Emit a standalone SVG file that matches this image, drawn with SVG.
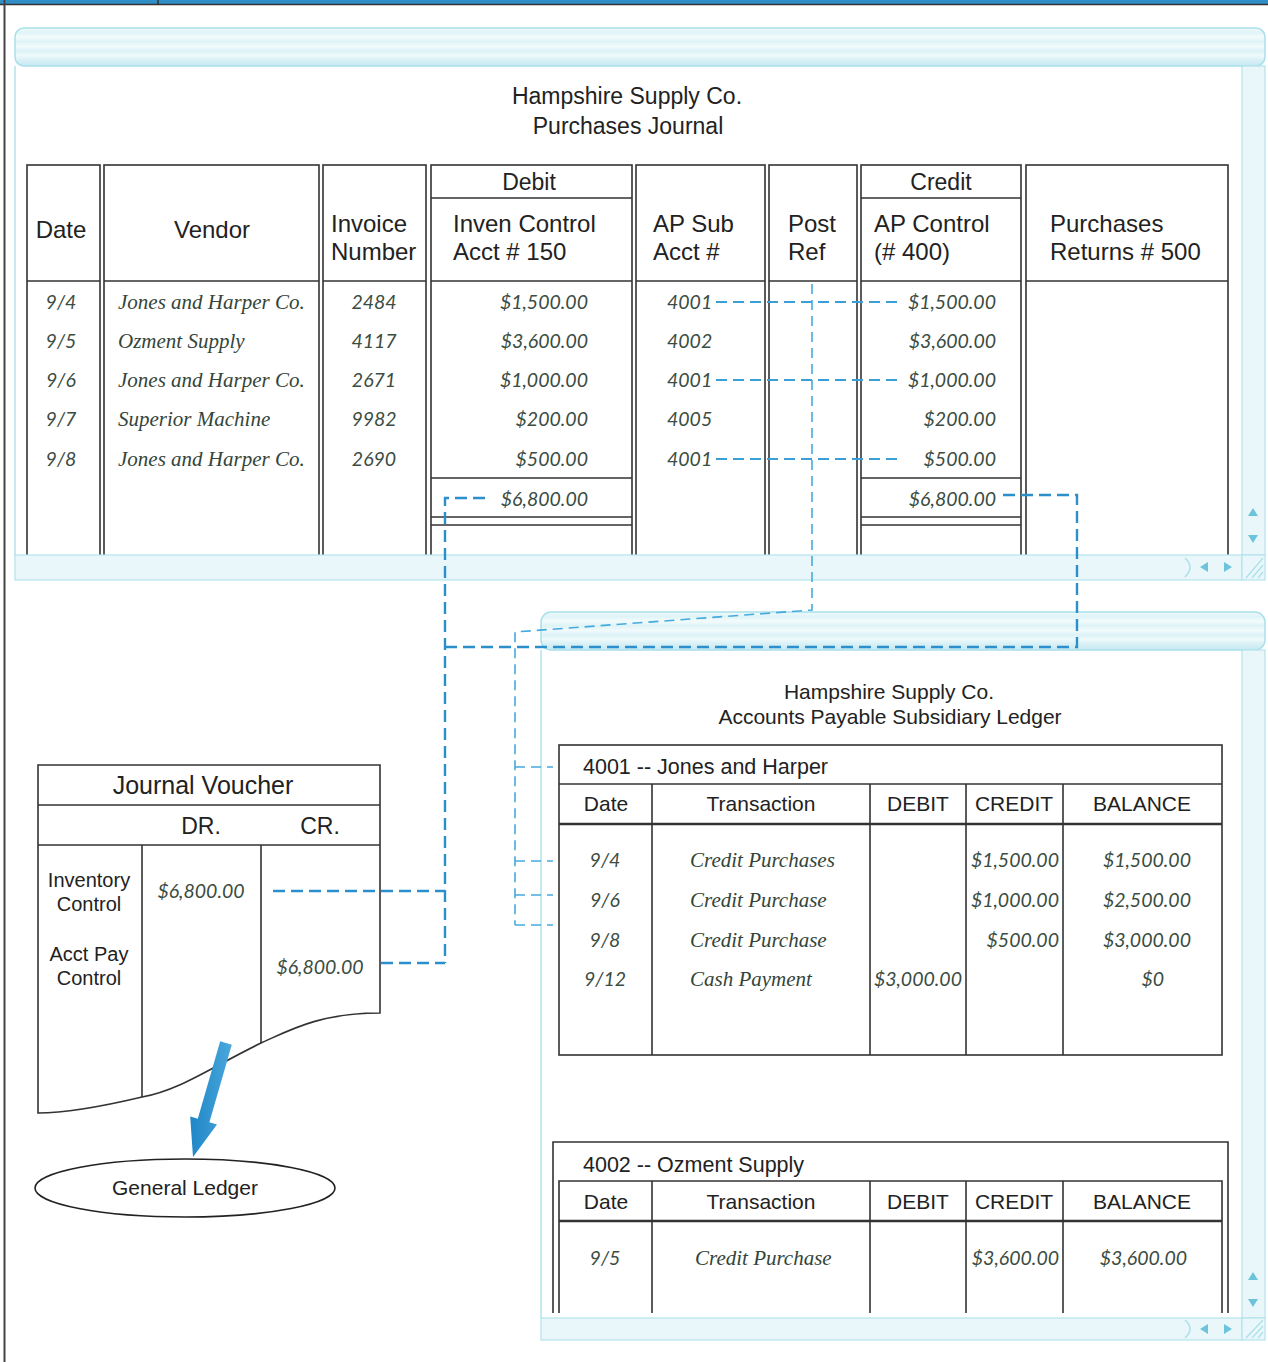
<svg xmlns="http://www.w3.org/2000/svg" width="1268" height="1362" viewBox="0 0 1268 1362">
  <defs>
    <style>
      .hdr { font-family: "Liberation Sans", Arial, sans-serif; fill: #222; }
      .hw { font-family: Lato, "Liberation Sans", sans-serif; font-style: italic; font-weight: 400; fill: #3b4c42; font-size: 19.5px; }
      .sc { font-family: "Liberation Serif", "Times New Roman", serif; font-style: italic; fill: #33453a; font-size: 21px; }
      .box { fill: #fff; stroke: #333; stroke-width: 1.6; }
      .ln { fill: none; stroke: #333; stroke-width: 1.6; }
      .thk { fill: none; stroke: #333; stroke-width: 2.4; }
      .dash { fill: none; stroke: #2a8fcb; stroke-width: 2.4; stroke-dasharray: 12 6; }
      .dashL { fill: none; stroke: #45aadd; stroke-width: 1.6; stroke-dasharray: 10 6; }
      .row { fill: none; stroke: #3a9fd6; stroke-width: 2; stroke-dasharray: 11 6; }
      .bar { fill: url(#barGrad); stroke: #a9e0ea; stroke-width: 1.5; }
      .sbar { fill: #eaf7fa; stroke: #b2e3ec; stroke-width: 1.2; }
      .edge { stroke: #b2e3ec; stroke-width: 1.5; fill: none; }
      .arr { fill: #6cc4da; }
      .c { text-anchor: middle; }
      .r { text-anchor: end; }
    </style>
    <linearGradient id="barGrad" x1="0" y1="0" x2="0" y2="1">
      <stop offset="0" stop-color="#f1fafc"/>
      <stop offset="0.12" stop-color="#e0f4f7"/>
      <stop offset="0.24" stop-color="#f3fbfc"/>
      <stop offset="0.36" stop-color="#def3f6"/>
      <stop offset="0.48" stop-color="#f2fafc"/>
      <stop offset="0.6" stop-color="#dcf2f6"/>
      <stop offset="0.72" stop-color="#eef9fb"/>
      <stop offset="0.86" stop-color="#d5eff4"/>
      <stop offset="1" stop-color="#c7eaf1"/>
    </linearGradient>
    <linearGradient id="arrowGrad" x1="0" y1="0" x2="1" y2="0">
      <stop offset="0" stop-color="#1f86c6"/>
      <stop offset="1" stop-color="#4aa8dc"/>
    </linearGradient>
    <clipPath id="voucherClip">
      <path d="M38,765 H380 V1013 C320,1013 290,1030 261,1043 C210,1068 180,1090 142,1097 C100,1107 60,1113 38,1113 Z"/>
    </clipPath>
  </defs>

  <rect width="1268" height="1362" fill="#fff"/>

  <!-- page frame -->
  <g id="frame">
    <rect x="0" y="0" width="1268" height="4" fill="#2f8fc6"/>
    <line x1="0" y1="4.5" x2="1268" y2="4.5" stroke="#333" stroke-width="1.5"/>
    <line x1="158" y1="0" x2="158" y2="4" stroke="#333" stroke-width="1.5"/>
    <line x1="4.5" y1="0" x2="4.5" y2="1362" stroke="#444" stroke-width="2"/>
  </g>

  <!-- purchases journal window -->
  <g id="journal-window">
    <rect class="bar" x="15" y="28" width="1250" height="38" rx="9"/>
    <line class="edge" x1="15" y1="66" x2="15" y2="556"/>
    <text class="hdr c" x="627" y="104" font-size="23">Hampshire Supply Co.</text>
    <text class="hdr c" x="628" y="134" font-size="23">Purchases Journal</text>

    <!-- column boxes -->
    <rect class="box" x="27" y="165" width="73" height="400"/>
    <rect class="box" x="104" y="165" width="215" height="400"/>
    <rect class="box" x="323" y="165" width="103" height="400"/>
    <rect class="box" x="431" y="165" width="201" height="400"/>
    <rect class="box" x="636" y="165" width="129" height="400"/>
    <rect class="box" x="769" y="165" width="88" height="400"/>
    <rect class="box" x="861" y="165" width="160" height="400"/>
    <rect class="box" x="1026" y="165" width="202" height="400"/>
    <path class="ln" d="M27,281 H100 M104,281 H319 M323,281 H426 M431,281 H632 M636,281 H765 M769,281 H857 M861,281 H1021 M1026,281 H1228"/>
    <path class="ln" d="M431,198 H632 M861,198 H1021"/>
    <path class="ln" d="M431,478 H632 M431,517 H632 M431,525 H632 M861,478 H1021 M861,517 H1021 M861,525 H1021"/>

    <!-- headings -->
    <text class="hdr c" x="61" y="238" font-size="24">Date</text>
    <text class="hdr c" x="212" y="238" font-size="24">Vendor</text>
    <text class="hdr" x="331" y="232" font-size="24">Invoice</text>
    <text class="hdr" x="331" y="260" font-size="24">Number</text>
    <text class="hdr c" x="529" y="190" font-size="23">Debit</text>
    <text class="hdr" x="453" y="232" font-size="24">Inven Control</text>
    <text class="hdr" x="453" y="260" font-size="24">Acct # 150</text>
    <text class="hdr" x="653" y="232" font-size="24">AP Sub</text>
    <text class="hdr" x="653" y="260" font-size="24">Acct #</text>
    <text class="hdr" x="788" y="232" font-size="24">Post</text>
    <text class="hdr" x="788" y="260" font-size="24">Ref</text>
    <text class="hdr c" x="941" y="190" font-size="23">Credit</text>
    <text class="hdr" x="874" y="232" font-size="24">AP Control</text>
    <text class="hdr" x="874" y="260" font-size="24">(# 400)</text>
    <text class="hdr" x="1050" y="232" font-size="24">Purchases</text>
    <text class="hdr" x="1050" y="260" font-size="24">Returns # 500</text>

    <!-- entries -->
    <g class="hw c">
      <text x="61" y="309">9/4</text>
      <text x="61" y="348">9/5</text>
      <text x="61" y="387">9/6</text>
      <text x="61" y="426">9/7</text>
      <text x="61" y="466">9/8</text>
      <text x="374" y="309">2484</text>
      <text x="374" y="348">4117</text>
      <text x="374" y="387">2671</text>
      <text x="374" y="426">9982</text>
      <text x="374" y="466">2690</text>
    </g>
    <g class="sc">
      <text x="118" y="309">Jones and Harper Co.</text>
      <text x="118" y="348">Ozment Supply</text>
      <text x="118" y="387">Jones and Harper Co.</text>
      <text x="118" y="426">Superior Machine</text>
      <text x="118" y="466">Jones and Harper Co.</text>
    </g>
    <g class="hw r">
      <text x="588" y="309">$1,500.00</text>
      <text x="588" y="348">$3,600.00</text>
      <text x="588" y="387">$1,000.00</text>
      <text x="588" y="426">$200.00</text>
      <text x="588" y="466">$500.00</text>
      <text x="588" y="506">$6,800.00</text>
      <text x="996" y="309">$1,500.00</text>
      <text x="996" y="348">$3,600.00</text>
      <text x="996" y="387">$1,000.00</text>
      <text x="996" y="426">$200.00</text>
      <text x="996" y="466">$500.00</text>
      <text x="996" y="506">$6,800.00</text>
    </g>
    <g class="hw">
      <text x="667" y="309">4001</text>
      <text x="667" y="348">4002</text>
      <text x="667" y="387">4001</text>
      <text x="667" y="426">4005</text>
      <text x="667" y="466">4001</text>
    </g>

    <!-- scroll bars -->
    <rect class="sbar" x="1242" y="66" width="23" height="489"/>
    <path class="arr" d="M1253,508 l-5,8 h10 z M1253,543 l-5,-8 h10 z"/>
    <rect class="sbar" x="15" y="555" width="1227" height="25"/>
    <path d="M1185,558 q10,9 0,19" fill="none" stroke="#a9e0ea" stroke-width="1.5"/>
    <path class="arr" d="M1200,567 l8,-5 v10 z M1232,567 l-8,-5 v10 z"/>
    <rect class="sbar" x="1242" y="555" width="23" height="25"/>
    <path d="M1246,578 l17,-20 M1252,578 l11,-13 M1258,578 l5,-6" stroke="#a9e0ea" stroke-width="1.2"/>
  </g>

  <!-- accounts payable ledger window -->
  <g id="ledger-window">
    <rect class="bar" x="541" y="612" width="724" height="38" rx="10"/>
    <line class="edge" x1="541" y1="650" x2="541" y2="1318"/>
    <text class="hdr c" x="889" y="699" font-size="21">Hampshire Supply Co.</text>
    <text class="hdr c" x="890" y="724" font-size="21">Accounts Payable Subsidiary Ledger</text>

    <rect class="sbar" x="1242" y="650" width="23" height="668"/>
    <path class="arr" d="M1253,1272 l-5,8 h10 z M1253,1307 l-5,-8 h10 z"/>
    <rect class="sbar" x="541" y="1318" width="701" height="22"/>
    <path d="M1185,1320 q10,9 0,18" fill="none" stroke="#a9e0ea" stroke-width="1.5"/>
    <path class="arr" d="M1200,1329 l8,-5 v10 z M1232,1329 l-8,-5 v10 z"/>
    <rect class="sbar" x="1242" y="1318" width="23" height="22"/>
    <path d="M1246,1338 l17,-18 M1252,1338 l11,-12 M1258,1338 l5,-6" stroke="#a9e0ea" stroke-width="1.2"/>
  </g>

  <!-- ledger account 4001 -->
  <g id="ledger-4001">
    <rect class="box" x="559" y="745" width="663" height="310"/>
    <line class="ln" x1="559" y1="784" x2="1222" y2="784"/>
    <line class="thk" x1="559" y1="824" x2="1222" y2="824"/>
    <path class="ln" d="M652,784 V1055 M870,784 V1055 M966,784 V1055 M1063,784 V1055"/>
    <text class="hdr" x="583" y="774" font-size="21.5">4001 -- Jones and Harper</text>
    <text class="hdr c" x="606" y="811" font-size="21">Date</text>
    <text class="hdr c" x="761" y="811" font-size="21">Transaction</text>
    <text class="hdr c" x="918" y="811" font-size="21">DEBIT</text>
    <text class="hdr c" x="1014" y="811" font-size="21">CREDIT</text>
    <text class="hdr c" x="1142" y="811" font-size="21">BALANCE</text>
    <g class="hw c">
      <text x="605" y="867">9/4</text>
      <text x="605" y="907">9/6</text>
      <text x="605" y="947">9/8</text>
      <text x="605" y="986">9/12</text>
    </g>
    <g class="sc">
      <text x="690" y="867">Credit Purchases</text>
      <text x="690" y="907">Credit Purchase</text>
      <text x="690" y="947">Credit Purchase</text>
      <text x="690" y="986">Cash Payment</text>
    </g>
    <g class="hw r">
      <text x="962" y="986">$3,000.00</text>
      <text x="1059" y="867">$1,500.00</text>
      <text x="1059" y="907">$1,000.00</text>
      <text x="1059" y="947">$500.00</text>
      <text x="1191" y="867">$1,500.00</text>
      <text x="1191" y="907">$2,500.00</text>
      <text x="1191" y="947">$3,000.00</text>
      <text x="1164" y="986">$0</text>
    </g>
  </g>

  <!-- ledger account 4002 -->
  <g id="ledger-4002">
    <path class="ln" d="M553,1313 V1142 H1228 V1313"/>
    <path class="ln" d="M559,1313 V1181 H1222 V1313"/>
    <line class="thk" x1="559" y1="1221" x2="1222" y2="1221"/>
    <path class="ln" d="M652,1181 V1313 M870,1181 V1313 M966,1181 V1313 M1063,1181 V1313"/>
    <text class="hdr" x="583" y="1172" font-size="21.5">4002 -- Ozment Supply</text>
    <text class="hdr c" x="606" y="1209" font-size="21">Date</text>
    <text class="hdr c" x="761" y="1209" font-size="21">Transaction</text>
    <text class="hdr c" x="918" y="1209" font-size="21">DEBIT</text>
    <text class="hdr c" x="1014" y="1209" font-size="21">CREDIT</text>
    <text class="hdr c" x="1142" y="1209" font-size="21">BALANCE</text>
    <text class="hw c" x="605" y="1265">9/5</text>
    <text class="sc" x="695" y="1265">Credit Purchase</text>
    <text class="hw r" x="1059" y="1265">$3,600.00</text>
    <text class="hw r" x="1187" y="1265">$3,600.00</text>
  </g>

  <!-- journal voucher -->
  <g id="journal-voucher">
    <path d="M38,765 H380 V1013 C320,1013 290,1030 261,1043 C210,1068 180,1090 142,1097 C100,1107 60,1113 38,1113 Z" fill="#fff" stroke="#333" stroke-width="1.6"/>
    <path class="ln" d="M38,805 H380 M38,845 H380"/>
    <path class="ln" clip-path="url(#voucherClip)" d="M142,845 V1120 M261,845 V1120"/>
    <text class="hdr c" x="203" y="794" font-size="25">Journal Voucher</text>
    <text class="hdr c" x="201" y="834" font-size="23">DR.</text>
    <text class="hdr c" x="320" y="834" font-size="23">CR.</text>
    <text class="hdr c" x="89" y="887" font-size="20">Inventory</text>
    <text class="hdr c" x="89" y="911" font-size="20">Control</text>
    <text class="hdr c" x="89" y="961" font-size="20">Acct Pay</text>
    <text class="hdr c" x="89" y="985" font-size="20">Control</text>
    <text class="hw c" x="201" y="898">$6,800.00</text>
    <text class="hw c" x="320" y="974">$6,800.00</text>
  </g>

  <!-- general ledger -->
  <g id="general-ledger">
    <ellipse cx="185" cy="1188" rx="150" ry="29" fill="#fff" stroke="#222" stroke-width="1.6"/>
    <text class="hdr c" x="185" y="1195" font-size="21">General Ledger</text>
  </g>

  <!-- connectors -->
  <g id="connectors">
    <!-- AP sub account to AP control amounts -->
    <path class="row" d="M716,302 H900 M716,380 H900 M716,459 H900"/>
    <!-- post ref trail into subsidiary ledger -->
    <path class="dashL" d="M812,284 V610 L515,632 V925"/>
    <path class="dashL" d="M515,767 H553 M515,861 H553 M515,895 H553 M515,925 H553"/>
    <!-- column totals to journal voucher -->
    <path class="dash" d="M485,498 H445 V963"/>
    <path class="dash" d="M445,647 H1077 V495 H1003"/>
    <path class="dash" d="M273,891 H445 M381,963 H445"/>
    <!-- posting to general ledger -->
    <polygon fill="url(#arrowGrad)" points="231.8,1044.7 209.4,1122.2 217.0,1124.4 193,1157 190.2,1116.6 197.8,1118.8 220.2,1041.3"/>
  </g>
</svg>
